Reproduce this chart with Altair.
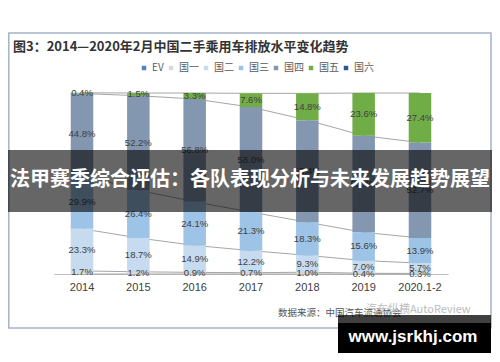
import altair as alt
import pandas as pd

years = ["2014", "2015", "2016", "2017", "2018", "2019", "2020.1-2"]
series_order = ["EV", "国一", "国二", "国三", "国四", "国五", "国六"]
stack_order = ["国一", "国二", "国三", "国四", "国五"]
g1 = [1.7, 1.2, 0.9, 0.7, 1.0, 0.4, 0.3]
g2 = [23.3, 18.7, 14.9, 12.2, 9.3, 7.0, 5.7]
g3 = [29.9, 26.4, 24.1, 21.3, 18.3, 15.6, 13.9]
g4 = [44.8, 52.2, 56.8, 58.0, 56.4, 53.4, 52.7]
g5 = [0.4, 1.5, 3.3, 7.6, 14.8, 23.6, 27.4]
colors = ["#4f81c7", "#d9d9d9", "#c6dbef", "#9dc3e6", "#8497b0", "#70ad47", "#2f5597"]

title_text = "图3：2014—2020年2月中国二手乘用车排放水平变化趋势"
banner_text = "法甲赛季综合评估：各队表现分析与未来发展趋势展望"
source_text = "数据来源：中国汽车流通协会"
source_mark = "汽车纵横AutoReview"
watermark_text = "www.jsrkhj.com"

values = {"国一": g1, "国二": g2, "国三": g3, "国四": g4, "国五": g5}
rows = []
line_rows = []
for i, yr in enumerate(years):
    cum = 0.0
    line_rows.append({"year": yr, "level": 0, "v": 0.0})
    for k, s in enumerate(stack_order):
        v = values[s][i]
        rows.append({"year": yr, "series": s, "y0": cum, "y1": cum + v,
                     "mid": cum + v / 2, "label": f"{v:.1f}%"})
        cum += v
        line_rows.append({"year": yr, "level": k + 1, "v": cum})
df = pd.DataFrame(rows)
ldf = pd.DataFrame(line_rows)
one = pd.DataFrame({"a": [0]})

W, H = 484, 266
xscale = alt.Scale(type="band", domain=years, range=[45.85, 440.15],
                   paddingInner=0.6, paddingOuter=0.3)
yscale = alt.Scale(domain=[0, 100], range=[266, 85])

xenc = alt.X("year:N", sort=years, scale=xscale, title="",
             axis=alt.Axis(labelAngle=0, ticks=False, domainColor="#bfbfbf",
                           labelFontSize=11, labelColor="#404040",
                           labelFont="Liberation Sans", labelPadding=7,
                           grid=False))

lines = alt.Chart(ldf).mark_line(color="#a6a6a6", strokeWidth=1).encode(
    x=xenc,
    y=alt.Y("v:Q", scale=yscale, axis=None),
    detail="level:N",
)

bars = alt.Chart(df).mark_bar().encode(
    x=xenc,
    y=alt.Y("y0:Q", scale=yscale, axis=None),
    y2="y1:Q",
    color=alt.Color("series:N", scale=alt.Scale(domain=series_order, range=colors),
                    legend=alt.Legend(orient="none", legendX=131, legendY=55,
                                      direction="horizontal", columns=7, title=None,
                                      symbolType="square", symbolSize=20,
                                      symbolStrokeWidth=0, labelFontSize=10,
                                      labelFont="Noto Sans CJK SC",
                                      labelColor="#595959", columnPadding=2,
                                      labelOffset=3, padding=0)),
)

labels = alt.Chart(df).mark_text(fontSize=9.5, font="Liberation Sans",
                                 color="#404040").encode(
    x=xenc,
    y=alt.Y("mid:Q", scale=yscale, axis=None),
    text="label:N",
)

border = alt.Chart(one).mark_rect(fillOpacity=0, stroke="#a5b3c6", strokeWidth=1.5).encode(
    x=alt.value(0.8), x2=alt.value(483), y=alt.value(25), y2=alt.value(320))

title = alt.Chart(one).mark_text(align="left", baseline="middle", fontSize=13,
                                 fontWeight="bold", font="Noto Sans CJK SC",
                                 color="#333333").encode(
    x=alt.value(5), y=alt.value(38.5), text=alt.value(title_text))

src = alt.Chart(one).mark_text(align="left", baseline="middle", fontSize=9.5,
                               font="Noto Sans CJK SC", color="#555555").encode(
    x=alt.value(270), y=alt.value(305), text=alt.value(source_text))

src2 = alt.Chart(one).mark_text(align="left", baseline="middle", fontSize=11,
                                font="Noto Sans CJK SC", color="#bbbbbb").encode(
    x=alt.value(358), y=alt.value(302), text=alt.value(source_mark))

band = alt.Chart(one).mark_rect(color="#000000", opacity=0.6).encode(
    x=alt.value(0), x2=alt.value(484), y=alt.value(142), y2=alt.value(204))

banner = alt.Chart(one).mark_text(align="center", baseline="middle", fontSize=20,
                                  fontWeight="bold", font="Noto Sans CJK SC",
                                  color="#ffffff").encode(
    x=alt.value(242), y=alt.value(172), text=alt.value(banner_text))

wm_top = alt.Chart(one).mark_rect(color="#000000", opacity=0.75).encode(
    x=alt.value(330), x2=alt.value(483), y=alt.value(307), y2=alt.value(315))
wm = alt.Chart(one).mark_rect(color="#000000").encode(
    x=alt.value(330), x2=alt.value(483), y=alt.value(315), y2=alt.value(345))
wm_text = alt.Chart(one).mark_text(align="center", baseline="middle", fontSize=17,
                                   fontWeight="bold", font="Liberation Sans",
                                   color="#ffffff").encode(
    x=alt.value(405), y=alt.value(329), text=alt.value(watermark_text))

chart = alt.layer(
    border, title, lines, bars, labels, src, src2, band, banner, wm_top, wm, wm_text
).properties(
    width=W, height=H,
    autosize=alt.AutoSizeParams(type="none"),
    padding={"left": 0, "top": 0, "right": 0, "bottom": 80},
    background="#ffffff",
).configure_view(stroke=None)

chart.save("out.html", embed_options={"renderer": "svg", "actions": False})
